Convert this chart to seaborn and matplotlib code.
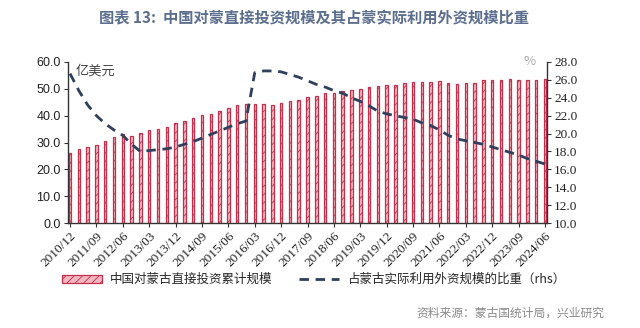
import matplotlib
matplotlib.use("Agg")
import matplotlib.pyplot as plt
import seaborn as sns
import numpy as np
import pandas as pd
from matplotlib.ticker import FormatStrFormatter

quarters = [
    "2010/12",
    "2011/03", "2011/06", "2011/09", "2011/12",
    "2012/03", "2012/06", "2012/09", "2012/12",
    "2013/03", "2013/06", "2013/09", "2013/12",
    "2014/03", "2014/06", "2014/09", "2014/12",
    "2015/03", "2015/06", "2015/09", "2015/12",
    "2016/03", "2016/06", "2016/09", "2016/12",
    "2017/03", "2017/06", "2017/09", "2017/12",
    "2018/03", "2018/06", "2018/09", "2018/12",
    "2019/03", "2019/06", "2019/09", "2019/12",
    "2020/03", "2020/06", "2020/09", "2020/12",
    "2021/03", "2021/06", "2021/09", "2021/12",
    "2022/03", "2022/06", "2022/09", "2022/12",
    "2023/03", "2023/06", "2023/09", "2023/12",
    "2024/03", "2024/06",
]

# 中国对蒙古直接投资累计规模（亿美元）
fdi_stock = [
    26.1, 27.4, 28.4, 29.1, 30.5, 31.9, 33.0, 32.5, 33.7, 34.6,
    35.1, 35.8, 37.1, 37.9, 39.1, 40.1, 40.8, 41.7, 42.7, 43.9,
    44.2, 44.2, 44.2, 43.9, 44.8, 45.4, 45.8, 46.8, 47.4, 48.3,
    48.6, 49.2, 49.5, 50.1, 50.7, 51.0, 51.3, 51.6, 52.0, 52.4,
    52.4, 52.7, 53.1, 52.0, 51.8, 52.0, 52.0, 53.2, 53.3, 53.3,
    53.5, 53.4, 53.4, 53.4, 53.5,
]

# 占蒙古实际利用外资规模的比重（%，rhs）
share_rhs = [
    26.7, 24.8, 23.2, 22.0, 21.1, 20.4, 19.8, 18.8, 18.0, 18.1,
    18.2, 18.3, 18.5, 18.8, 19.1, 19.5, 19.9, 20.3, 20.7, 21.1,
    21.4, 26.8, 27.0, 27.0, 26.9, 26.6, 26.3, 25.9, 25.5, 25.2,
    24.8, 24.5, 24.0, 23.6, 23.1, 22.5, 22.2, 22.0, 21.8, 21.6,
    21.2, 20.9, 20.4, 19.8, 19.4, 19.2, 19.0, 18.8, 18.5, 18.2,
    17.9, 17.6, 17.2, 16.9, 16.6,
]

bar_label = "中国对蒙古直接投资累计规模"
line_label = "占蒙古实际利用外资规模的比重（rhs）"
title = "图表 13:  中国对蒙直接投资规模及其占蒙实际利用外资规模比重"
source = "资料来源：蒙古国统计局，兴业研究"

sns.set_theme(style="ticks")
plt.rcParams['font.family'] = ['Noto Sans CJK SC', 'DejaVu Sans']
plt.rcParams['hatch.linewidth'] = 0.6

fig = plt.figure(figsize=(6.4, 3.28), dpi=100)
ax = fig.add_axes([0.106, 0.320, 0.749, 0.491])

df = pd.DataFrame({"q": quarters, "v": fdi_stock})
sns.barplot(data=df, x="q", y="v", ax=ax, color="#f0b8c2", saturation=1,
            width=0.28, edgecolor="#c62f4b", linewidth=0.9, hatch="////")

ax2 = ax.twinx()
sns.lineplot(x=np.arange(len(quarters)), y=share_rhs, ax=ax2,
             color="#2f3f5c", linewidth=2.0)
ln = ax2.lines[0]
ln.set_dashes((3.4, 2.4))

ax.set_xlim(-0.25, len(quarters) - 0.75)
ax.set_ylim(0, 60)
ax.set_yticks(np.arange(0, 61, 10))
ax.yaxis.set_major_formatter(FormatStrFormatter("%.1f"))
ax2.set_ylim(10, 28)
ax2.set_yticks(np.arange(10, 29, 2))
ax2.yaxis.set_major_formatter(FormatStrFormatter("%.1f"))

ticks = list(range(0, len(quarters), 3))
ax.set_xticks(ticks)
ax.set_xticklabels([quarters[i] for i in ticks], rotation=45, ha="right",
                   rotation_mode="anchor", family="Liberation Serif",
                   fontsize=9.5, color="#222222")
ax.set_xlabel("")
ax.set_ylabel("")
ax2.set_ylabel("")

for lab in ax.get_yticklabels():
    lab.set_family("Liberation Sans")
    lab.set_fontsize(9)
    lab.set_color("#222222")
for lab in ax2.get_yticklabels():
    lab.set_family("Liberation Serif")
    lab.set_fontsize(9.5)
    lab.set_color("#222222")

for a in (ax, ax2):
    a.spines["top"].set_visible(False)
    for s in a.spines.values():
        s.set_color("#333333")
        s.set_linewidth(1.0)
ax.spines["right"].set_visible(False)
ax2.spines["left"].set_visible(False)
ax2.spines["bottom"].set_visible(False)
ax.tick_params(axis="both", direction="out", length=3, width=0.8,
               color="#333333", pad=2)
ax2.tick_params(axis="y", direction="out", length=3, width=0.8,
                color="#333333", pad=2)

ax.text(0.016, 0.985, "亿美元", transform=ax.transAxes, ha="left", va="top",
        fontsize=9.5, color="#444444")
ax2.text(0.975, 1.0, "%", transform=ax2.transAxes, ha="right", va="center",
         fontsize=9.5, color="#aaaaaa")

fig.text(0.49, 0.945, title, ha="center", va="center", fontsize=11,
         fontweight="bold", color="#5b6e8e")
fig.text(0.945, 0.045, source, ha="right", va="center", fontsize=8.5,
         color="#8a8a8a")

bar_handle = ax.patches[0]
fig.legend(handles=[bar_handle, ln], labels=[bar_label, line_label],
           loc="center", bbox_to_anchor=(0.49, 0.148), ncol=2,
           frameon=False, fontsize=9, handlelength=3.2, handleheight=0.6,
           columnspacing=2.2, handletextpad=0.6)

fig.savefig("out.png", dpi=100)
